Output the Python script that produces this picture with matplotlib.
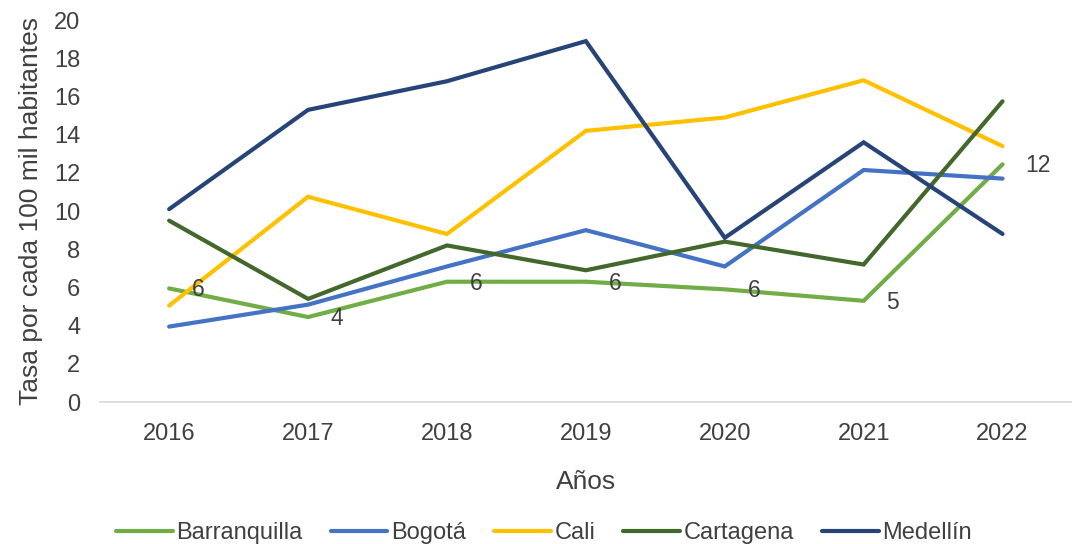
import numpy as np
import matplotlib
matplotlib.use("Agg")
import matplotlib.pyplot as plt

plt.rcParams['font.family'] = ['Liberation Sans', 'DejaVu Sans']

# data
years = ["2016", "2017", "2018", "2019", "2020", "2021", "2022"]
barranquilla = [5.95, 4.45, 6.3, 6.3, 5.9, 5.3, 12.45]
bogota = [3.95, 5.1, 7.1, 9.0, 7.1, 12.15, 11.7]
cali = [5.05, 10.75, 8.8, 14.2, 14.9, 16.85, 13.4]
cartagena = [9.5, 5.4, 8.2, 6.9, 8.4, 7.2, 15.75]
medellin = [10.1, 15.3, 16.8, 18.9, 8.6, 13.6, 8.8]
barranquilla_labels = ["6", "4", "6", "6", "6", "5", "12"]

series = [
    ("Barranquilla", barranquilla, "#70AD47"),
    ("Bogotá", bogota, "#4472C4"),
    ("Cali", cali, "#FFC000"),
    ("Cartagena", cartagena, "#43682B"),
    ("Medellín", medellin, "#264478"),
]

txt = "#404040"

fig = plt.figure(figsize=(10.72, 5.44), dpi=100)
ax = fig.add_axes([0.093, 0.261, 0.907, 0.702])

x = np.arange(len(years))
for name, vals, col in series:
    ax.plot(x, vals, color=col, lw=3, label=name, solid_capstyle="round",
            solid_joinstyle="miter")

for xi, v, lab in zip(x, barranquilla, barranquilla_labels):
    ax.annotate(lab, (xi, v), xytext=(16.5, -1), textcoords="offset points",
                ha="left", va="center", fontsize=16.5, color=txt)

ax.set_xlim(-0.5, len(years) - 0.5)
ax.set_ylim(0, 20)
ax.set_yticks(range(0, 21, 2))
ax.set_xticks(x)
ax.set_xticklabels(years)
ax.tick_params(axis="both", length=0, labelsize=17, colors=txt)
ax.tick_params(axis="y", pad=14)
ax.tick_params(axis="x", pad=15)
for s in ["top", "right", "left"]:
    ax.spines[s].set_visible(False)
ax.spines["bottom"].set_color("#D9D9D9")
ax.spines["bottom"].set_linewidth(1.2)

ax.set_xlabel("Años", fontsize=19, color=txt, labelpad=18)
ax.set_ylabel("Tasa por cada 100 mil habitantes", fontsize=19, color=txt, labelpad=8)

ax.legend(loc="center", bbox_to_anchor=(0.457, -0.343), ncol=5, frameon=False,
          fontsize=17, handlelength=2.4, handletextpad=0.15, columnspacing=1.2,
          labelcolor=txt)

fig.savefig("out.png", dpi=100)
